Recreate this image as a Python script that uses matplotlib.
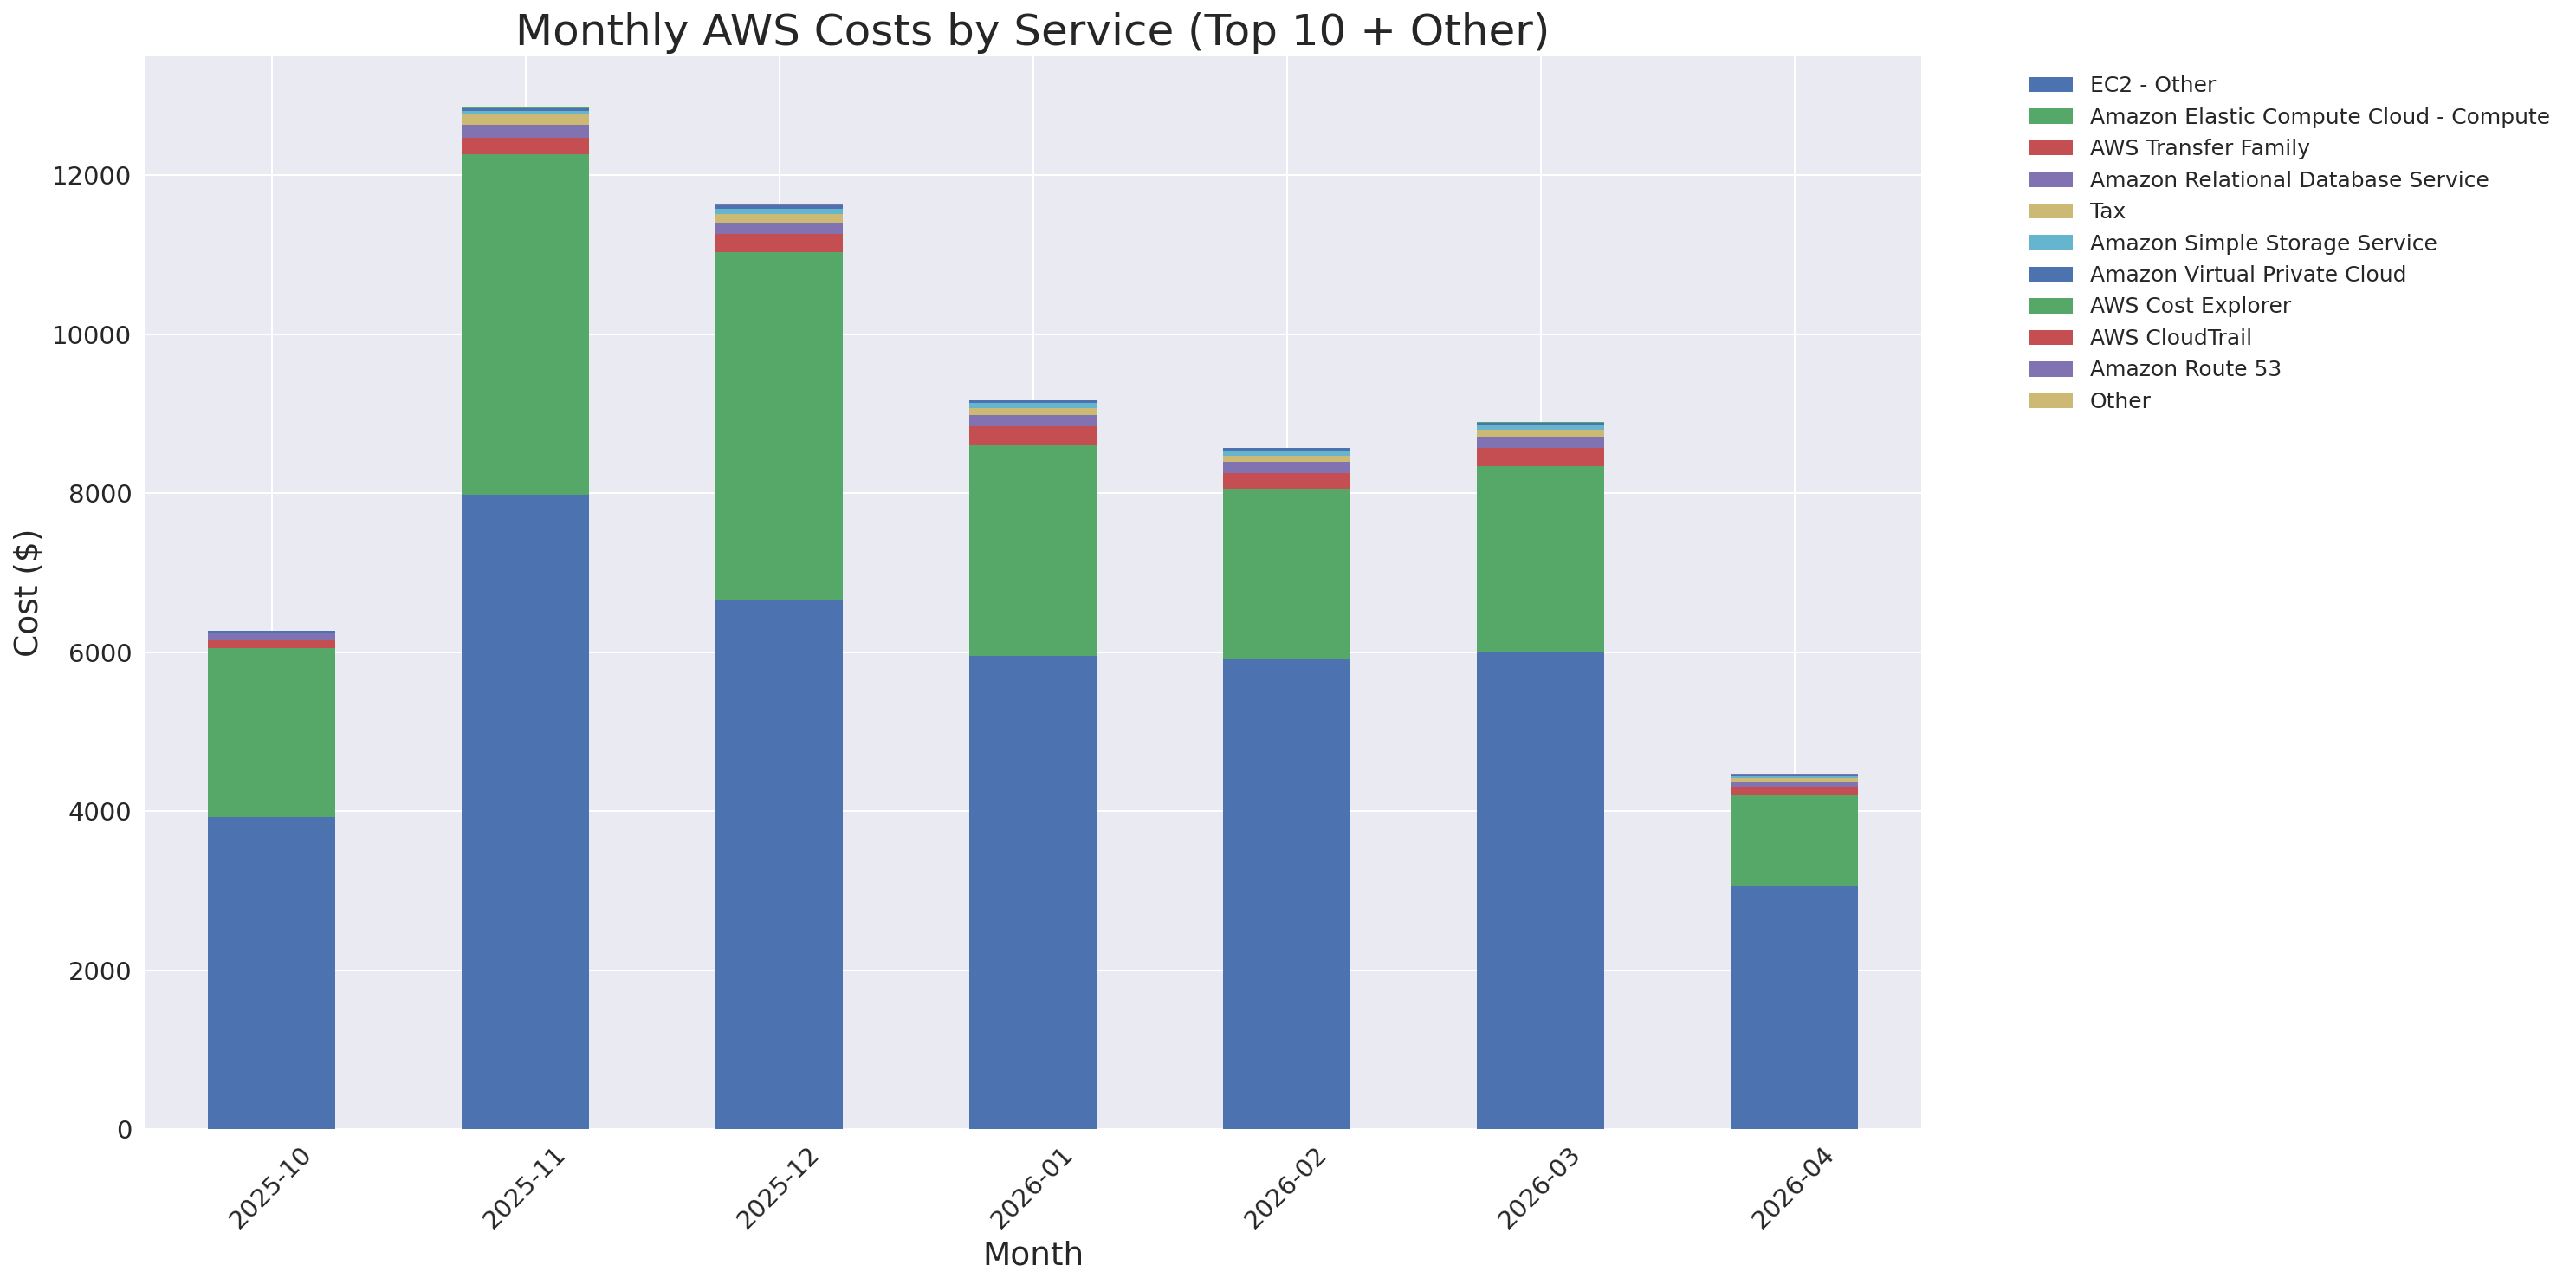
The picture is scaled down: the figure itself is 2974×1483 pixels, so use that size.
import matplotlib

matplotlib.use("Agg")
import matplotlib.pyplot as plt
import pandas as pd

# monthly costs in $
months = ["2025-10", "2025-11", "2025-12", "2026-01", "2026-02", "2026-03", "2026-04"]

ec2_other = [3920, 7978, 6665, 5953, 5921, 5997, 3062]
ec2_compute = [2135, 4290, 4368, 2657, 2134, 2341, 1130]
transfer_family = [95, 204, 229, 229, 196, 229, 109]
rds = [88, 163, 142, 142, 142, 142, 65]
tax = [0, 131, 109, 90, 76, 87, 44]
s3 = [11, 44, 65, 62, 65, 65, 36]
vpc = [21, 29, 44, 33, 33, 22, 16]
cost_explorer = [0, 14, 2, 1, 1, 11, 1]
cloudtrail = [1, 2, 2, 2, 2, 2, 1]
route53 = [1, 1, 1, 1, 1, 1, 1]
other = [2, 3, 3, 3, 3, 3, 2]

services = {
    "EC2 - Other": ec2_other,
    "Amazon Elastic Compute Cloud - Compute": ec2_compute,
    "AWS Transfer Family": transfer_family,
    "Amazon Relational Database Service": rds,
    "Tax": tax,
    "Amazon Simple Storage Service": s3,
    "Amazon Virtual Private Cloud": vpc,
    "AWS Cost Explorer": cost_explorer,
    "AWS CloudTrail": cloudtrail,
    "Amazon Route 53": route53,
    "Other": other,
}

df = pd.DataFrame(services, index=months)

plt.style.use("seaborn-v0_8")
plt.rcParams["font.family"] = "DejaVu Sans"

fig = plt.figure(figsize=(2974 / 150, 1483 / 150), dpi=150)
ax = fig.add_axes([167 / 2974, 1 - 1303 / 1483, (2218 - 167) / 2974, (1303 - 64.5) / 1483])

df.plot(kind="bar", stacked=True, ax=ax, rot=45)

ax.set_title("Monthly AWS Costs by Service (Top 10 + Other)", fontsize=24)
ax.set_xlabel("Month", fontsize=18)
ax.set_ylabel("Cost ($)", fontsize=18)
ax.tick_params(axis="both", labelsize=14)
ax.legend(bbox_to_anchor=(1.05, 1), loc="upper left", fontsize=12)

fig.savefig("out.png", dpi=150)
plt.close(fig)
